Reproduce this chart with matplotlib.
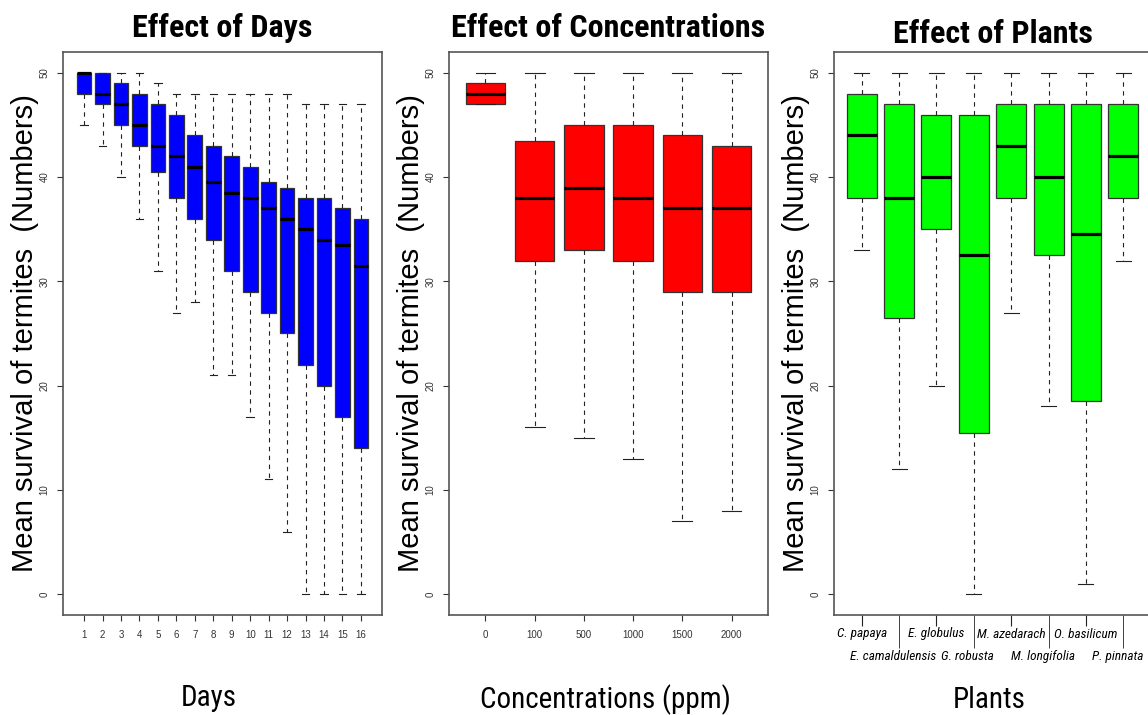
import matplotlib
matplotlib.use('Agg')
import matplotlib.pyplot as plt
from matplotlib import font_manager as fm
from matplotlib.transforms import ScaledTranslation

# data
days = [str(i) for i in range(1, 17)]
day_low = [45, 43, 40, 36, 31, 27, 28, 21, 21, 17, 11, 6, 0, 0, 0, 0]
day_q1 = [48, 47, 45, 43, 40.5, 38, 36, 34, 31, 29, 27, 25, 22, 20, 17, 14]
day_med = [50, 48, 47, 45, 43, 42, 41, 39.5, 38.5, 38, 37, 36, 35, 34, 33.5, 31.5]
day_q3 = [50, 50, 49, 48, 47, 46, 44, 43, 42, 41, 39.5, 39, 38, 38, 37, 36]
day_high = [50, 50, 50, 50, 49, 48, 48, 48, 48, 48, 48, 48, 47, 47, 47, 47]

concs = ['0', '100', '500', '1000', '1500', '2000']
conc_low = [47, 16, 15, 13, 7, 8]
conc_q1 = [47, 32, 33, 32, 29, 29]
conc_med = [48, 38, 39, 38, 37, 37]
conc_q3 = [49, 43.5, 45, 45, 44, 43]
conc_high = [50, 50, 50, 50, 50, 50]

plants = ['C. papaya', 'E. camaldulensis', 'E. globulus', 'G. robusta',
          'M. azedarach', 'M. longifolia', 'O. basilicum', 'P. pinnata']
plant_low = [33, 12, 20, 0, 27, 18, 1, 32]
plant_q1 = [38, 26.5, 35, 15.5, 38, 32.5, 18.5, 38]
plant_med = [44, 38, 40, 32.5, 43, 40, 34.5, 42]
plant_q3 = [48, 47, 46, 46, 47, 47, 47, 47]
plant_high = [50, 50, 50, 50, 50, 50, 50, 50]

arial = ['Liberation Sans', 'DejaVu Sans']

# look for a condensed face for the titles (R used Arial Narrow)
fams = {f.name for f in fm.fontManager.ttflist}
narrow, stretch = None, 'normal'
for name in ['Liberation Sans Narrow', 'Arial Narrow', 'Roboto Condensed',
             'Noto Sans Condensed', 'Open Sans Condensed', 'DejaVu Sans Condensed']:
    if name in fams:
        narrow = name
        break
if narrow is None:
    for base in ['Liberation Sans', 'Roboto', 'Noto Sans', 'Open Sans', 'DejaVu Sans']:
        if any(f.name == base and f.stretch == 'condensed' for f in fm.fontManager.ttflist):
            narrow, stretch = base, 'condensed'
            break
if narrow is None:
    narrow_fam = arial
    k = 0.84   # shrink so widths match
else:
    narrow_fam = [narrow, 'DejaVu Sans']
    k = 1.0


def make_stats(lo, q1, med, q3, hi):
    st = []
    for a, b, c, d, e in zip(lo, q1, med, q3, hi):
        st.append(dict(whislo=a, q1=b, med=c, q3=d, whishi=e, fliers=[]))
    return st


def draw(ax, stats, color, xlim):
    n = len(stats)
    ax.bxp(stats, positions=range(1, n + 1), widths=0.8, capwidths=0.4,
           patch_artist=True, showfliers=False,
           boxprops=dict(facecolor=color, edgecolor='#333333', linewidth=0.9),
           medianprops=dict(color='black', linewidth=2.3),
           whiskerprops=dict(color='#222222', linewidth=0.8, linestyle=(0, (4, 4))),
           capprops=dict(color='#222222', linewidth=0.8))
    ax.set_xlim(*xlim)
    ax.set_ylim(-2, 52)
    ax.set_yticks([0, 10, 20, 30, 40, 50])
    for sp in ax.spines.values():
        sp.set_color('#555555')
        sp.set_linewidth(1.2)
    ax.tick_params(axis='y', length=4.5, pad=5, labelsize=7, labelrotation=90,
                   colors='#333333')
    for lbl in ax.get_yticklabels():
        lbl.set_family(arial)
        lbl.set_verticalalignment('center')
    ax.set_ylabel('Mean survival of termites  (Numbers)', fontsize=21, family=arial)
    ax.yaxis.set_label_coords(-0.076, 0.5)


fig = plt.figure(figsize=(11.48, 7.15), dpi=100)
fig.patch.set_facecolor('white')

ax1 = fig.add_axes([63 / 1148, 100 / 715, 319 / 1148, 563 / 715])
ax2 = fig.add_axes([449 / 1148, 100 / 715, 319 / 1148, 563 / 715])
ax3 = fig.add_axes([834 / 1148, 100 / 715, 317 / 1148, 563 / 715])

draw(ax1, make_stats(day_low, day_q1, day_med, day_q3, day_high), '#0000FF', (-0.14, 17.14))
draw(ax2, make_stats(conc_low, conc_q1, conc_med, conc_q3, conc_high), '#FF0000', (0.26, 6.74))
draw(ax3, make_stats(plant_low, plant_q1, plant_med, plant_q3, plant_high), '#00FF00', (0.26, 8.74))

ax1.set_xticks(range(1, 17), labels=days)
ax2.set_xticks(range(1, 7), labels=concs)
for ax in (ax1, ax2):
    ax.tick_params(axis='x', length=4.5, pad=6, labelsize=7, colors='#333333')
    for lbl in ax.get_xticklabels():
        lbl.set_family(arial)

# plant names on two staggered rows
ax3.set_xticks([1, 3, 5, 7], labels=plants[0::2])
ax3.set_xticks([2, 4, 6, 8], labels=plants[1::2], minor=True)
ax3.tick_params(axis='x', which='major', length=8, pad=1, labelsize=9.5 * k, color='#222222')
ax3.tick_params(axis='x', which='minor', length=24, pad=1, labelsize=9.5 * k, color='#222222')
for lbl in ax3.get_xticklabels(which='both'):
    lbl.set_family(narrow_fam)
    lbl.set_stretch(stretch)
    lbl.set_style('italic')
# second row sits a little left of its ticks
shift = ScaledTranslation(-6 / 100, 0, fig.dpi_scale_trans)
for t in ax3.xaxis.get_minor_ticks():
    t.label1.set_transform(t.label1.get_transform() + shift)

tkw = dict(fontsize=23 * k, fontweight='bold', family=narrow_fam, fontstretch=stretch)
ax1.set_title('Effect of Days', pad=11, **tkw)
ax2.set_title('Effect of Concentrations', pad=11, **tkw)
ax3.set_title('Effect of Plants', pad=6.5, **tkw)

lkw = dict(fontsize=21 * k, family=narrow_fam, fontstretch=stretch)
ax1.set_xlabel('Days', **lkw)
ax1.xaxis.set_label_coords(0.458, -0.122)
ax2.set_xlabel('Concentrations (ppm)', **lkw)
ax2.xaxis.set_label_coords(0.49, -0.124)
ax3.set_xlabel('Plants', **lkw)
ax3.xaxis.set_label_coords(0.49, -0.126)

fig.savefig('out.png', dpi=100, facecolor='white')
